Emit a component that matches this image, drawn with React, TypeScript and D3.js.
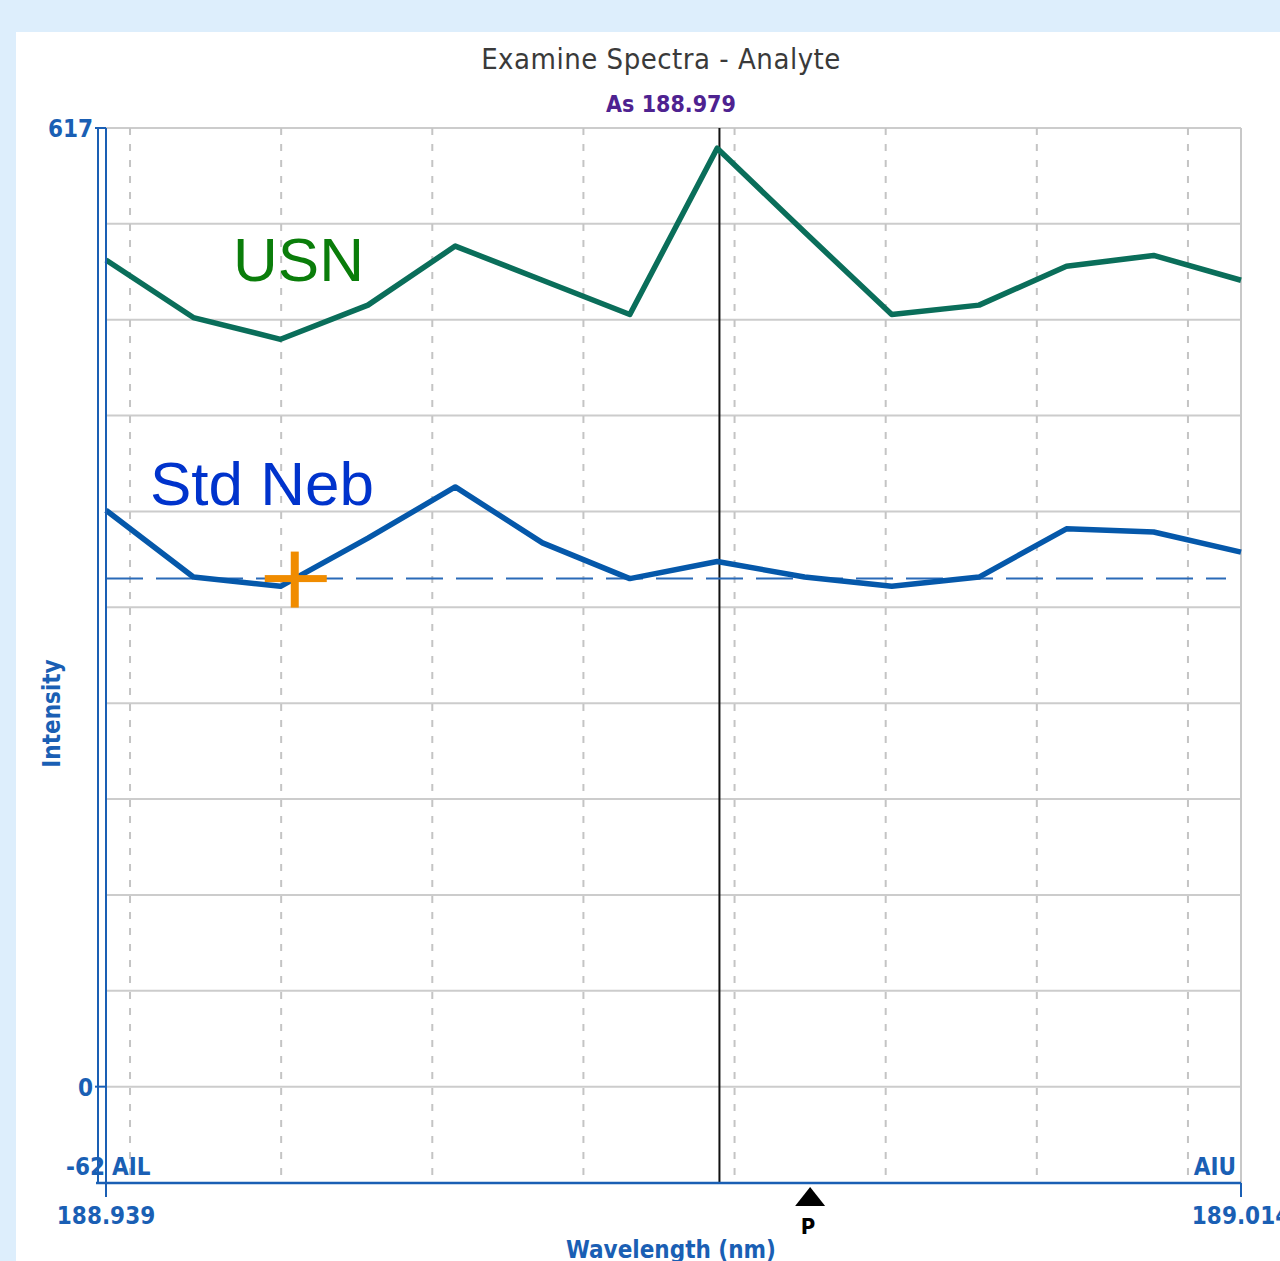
import React from "react";
import * as d3 from "d3";

// spectrum samples (nm) and intensities
const wavelengths = [
  188.93841, 188.94419, 188.94996, 188.95574, 188.96152, 188.96729, 188.97307,
  188.97885, 188.98463, 188.9904, 188.99618, 189.00196, 189.00773, 189.01351,
];
const usn = [532, 495, 481, 503, 541, 519, 497, 604, 550, 497, 503, 528, 535, 519];
const stdNeb = [371, 328, 322, 353, 386, 350, 327, 338, 328, 322, 328, 359, 357, 344];

const xGrid = [188.94, 188.95, 188.96, 188.97, 188.98, 188.99, 189.0, 189.01];
const yGrid = [0, 61.7, 123.4, 185.1, 246.8, 308.5, 370.2, 431.9, 493.6, 555.3, 617];
const yTicks = [617, 0, -62];
const xEndLabels = ["188.939", "189.014"];

const peakWavelength = 188.979;
const baselineLevel = 327;
const crossWavelength = 188.9509;
const peakMarker = 188.985;

const W = 1280;
const H = 1261;
const left = 106;
const right = 1241;
const top = 128;
const bottom = 1183;

const axisBlue = "#1a5fb4";
const labelFont = "'DejaVu Sans Condensed', 'DejaVu Sans', sans-serif";

export default function App() {
  const x = d3.scaleLinear().domain([wavelengths[0], wavelengths[wavelengths.length - 1]]).range([left, right]);
  const y = d3.scaleLinear().domain([-62, 617]).range([bottom, top]);

  const line = d3
    .line<number>()
    .x((_, i) => x(wavelengths[i]))
    .y((d) => y(d));

  const cx = x(crossWavelength);
  const cy = y(baselineLevel);
  const px = x(peakMarker);

  return (
    <svg
      width={W}
      height={H}
      style={{ position: "absolute", left: 0, top: 0, display: "block" }}
    >
      <rect x={0} y={0} width={W} height={H} fill="#ddeefc" />
      <rect x={16} y={32} width={W - 16} height={H - 32} fill="#ffffff" />

      {/* title */}
      <text x={661} y={69} textAnchor="middle" fontFamily={labelFont} fontSize={29} letterSpacing={0.5} fill="#3a3a3a">
        Examine Spectra - Analyte
      </text>
      <text x={671} y={112} textAnchor="middle" fontFamily={labelFont} fontWeight="bold" fontSize={23} fill="#4e2290">
        As 188.979
      </text>

      {/* grid */}
      {yGrid.map((v) => (
        <line key={"h" + v} x1={left} x2={right} y1={y(v)} y2={y(v)} stroke="#cccccc" strokeWidth={2} />
      ))}
      {xGrid.map((v) => (
        <line key={"v" + v} x1={x(v)} x2={x(v)} y1={top} y2={bottom} stroke="#c4c4c4" strokeWidth={2} strokeDasharray="7,9" />
      ))}
      <line x1={right} x2={right} y1={top} y2={bottom + 14} stroke="#c8c8c8" strokeWidth={2} />

      {/* peak line */}
      <line x1={x(peakWavelength)} x2={x(peakWavelength)} y1={top} y2={bottom} stroke="#111" strokeWidth={2} />

      {/* baseline */}
      <line x1={left} x2={1226} y1={cy} y2={cy} stroke="#2a6ab8" strokeWidth={2} strokeDasharray="37,13" />

      {/* series */}
      <path d={line(usn) || ""} fill="none" stroke="#0a6e5a" strokeWidth={5.5} strokeLinejoin="round" />
      <path d={line(stdNeb) || ""} fill="none" stroke="#0558aa" strokeWidth={5.5} strokeLinejoin="round" />

      {/* baseline point marker */}
      <rect x={cx - 30} y={cy - 3.5} width={62} height={7} fill="#f08c00" />
      <rect x={cx - 4} y={cy - 27} width={8} height={56} fill="#f08c00" />

      {/* series labels */}
      <text x={233} y={281} fontFamily="'Liberation Sans', Arial, sans-serif" fontSize={62} fill="#0a7d0a">
        USN
      </text>
      <text x={150} y={505} fontFamily="'Liberation Sans', Arial, sans-serif" fontSize={62} fill="#0033cc">
        Std Neb
      </text>

      {/* axes */}
      <line x1={98} x2={98} y1={top} y2={bottom} stroke={axisBlue} strokeWidth={2} />
      <line x1={left} x2={left} y1={top} y2={bottom + 14} stroke={axisBlue} strokeWidth={2} />
      <line x1={96} x2={right} y1={bottom} y2={bottom} stroke={axisBlue} strokeWidth={2.5} />
      <line x1={right} x2={right} y1={bottom} y2={bottom + 14} stroke={axisBlue} strokeWidth={2} />
      {yTicks.map((v) => (
        <g key={"yt" + v}>
          {v !== -62 && <line x1={95} x2={left} y1={y(v)} y2={y(v)} stroke={axisBlue} strokeWidth={2} />}
          <text
            x={v === -62 ? 105 : 93}
            y={v === -62 ? 1175 : y(v) + 9}
            textAnchor="end"
            fontFamily={labelFont}
            fontWeight="bold"
            fontSize={24}
            fill={axisBlue}
          >
            {v}
          </text>
        </g>
      ))}
      <text x={112} y={1175} fontFamily={labelFont} fontWeight="bold" fontSize={24} fill={axisBlue}>
        AIL
      </text>
      <text x={1236} y={1175} textAnchor="end" fontFamily={labelFont} fontWeight="bold" fontSize={24} fill={axisBlue}>
        AIU
      </text>
      {xEndLabels.map((t, i) => (
        <text
          key={t}
          x={i === 0 ? left : right}
          y={1224}
          textAnchor="middle"
          fontFamily={labelFont}
          fontWeight="bold"
          fontSize={24}
          fill={axisBlue}
        >
          {t}
        </text>
      ))}
      <text x={671} y={1258} textAnchor="middle" fontFamily={labelFont} fontWeight="bold" fontSize={24} fill={axisBlue}>
        Wavelength (nm)
      </text>
      <text
        transform={`translate(60, ${(top + bottom) / 2 + 58}) rotate(-90)`}
        textAnchor="middle"
        fontFamily={labelFont}
        fontWeight="bold"
        fontSize={24}
        fill={axisBlue}
      >
        Intensity
      </text>

      {/* peak marker P */}
      <path d={`M${px},${bottom + 4} L${px + 15},${bottom + 23} L${px - 15},${bottom + 23} Z`} fill="#000" />
      <text x={px - 2} y={1234} textAnchor="middle" fontFamily={labelFont} fontWeight="bold" fontSize={22} fill="#000">
        P
      </text>
    </svg>
  );
}
